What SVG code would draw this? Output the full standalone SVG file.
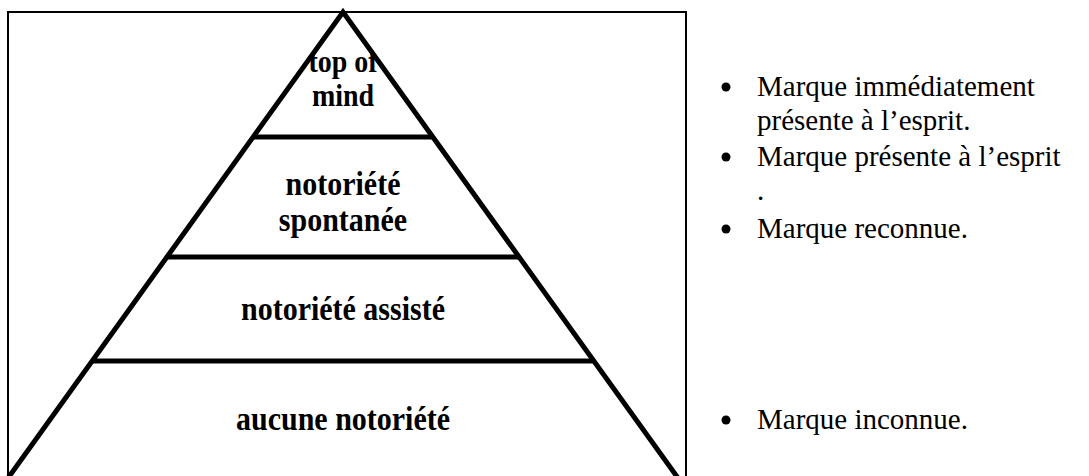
<svg xmlns="http://www.w3.org/2000/svg" width="1089" height="476" viewBox="0 0 1089 476">
  <style>
    .lvl { font-family: "Liberation Serif", "Times New Roman", serif; font-weight: bold; font-size: 30px; fill: #000; text-anchor: middle; }
    .leg { font-family: "Liberation Serif", "Times New Roman", serif; font-size: 29px; fill: #000; }
    .edge { stroke: #000; stroke-width: 5; fill: none; }
    .div { stroke: #000; stroke-width: 5; }
  </style>
  <defs>
    <clipPath id="tri">
      <polygon points="343,12 -2,490 688,490"/>
    </clipPath>
  </defs>
  <rect width="1089" height="476" fill="#fff"/>
  <g id="frame">
    <rect x="8" y="12" width="678" height="480" fill="none" stroke="#000" stroke-width="2"/>
  </g>
  <g id="level-top" clip-path="url(#tri)">
    <text class="lvl" transform="translate(343,72) scale(1,1.1)" style="font-size:28px">top of</text>
    <text class="lvl" transform="translate(343,106) scale(1,1.1)" style="font-size:28px">mind</text>
  </g>
  <g id="level-spontanee">
    <text class="lvl" transform="translate(343,195) scale(1,1.1)">notoriété</text>
    <text class="lvl" transform="translate(343,231) scale(1,1.1)">spontanée</text>
  </g>
  <g id="level-assiste">
    <text class="lvl" transform="translate(343,320) scale(1,1.1)">notoriété assisté</text>
  </g>
  <g id="level-aucune">
    <text class="lvl" transform="translate(343,430) scale(1,1.1)">aucune notoriété</text>
  </g>
  <g id="pyramid">
    <polyline class="edge" points="-2,492 343,12 688,492"/>
    <line class="div" x1="253" y1="137" x2="433" y2="137"/>
    <line class="div" x1="167" y1="257" x2="519" y2="257"/>
    <line class="div" x1="92" y1="361" x2="594" y2="361"/>
  </g>
  <g id="legend">
    <g id="legend-1">
      <circle cx="726" cy="87" r="4.5"/>
      <text class="leg" x="757" y="96">Marque immédiatement</text>
      <text class="leg" x="757" y="130">présente à l’esprit.</text>
    </g>
    <g id="legend-2">
      <circle cx="726" cy="157" r="4.5"/>
      <text class="leg" x="757" y="166">Marque présente à l’esprit</text>
      <text class="leg" x="757" y="200">.</text>
    </g>
    <g id="legend-3">
      <circle cx="726" cy="229" r="4.5"/>
      <text class="leg" x="757" y="238">Marque reconnue.</text>
    </g>
    <g id="legend-4">
      <circle cx="726" cy="420" r="4.5"/>
      <text class="leg" x="757" y="429">Marque inconnue.</text>
    </g>
  </g>
</svg>
